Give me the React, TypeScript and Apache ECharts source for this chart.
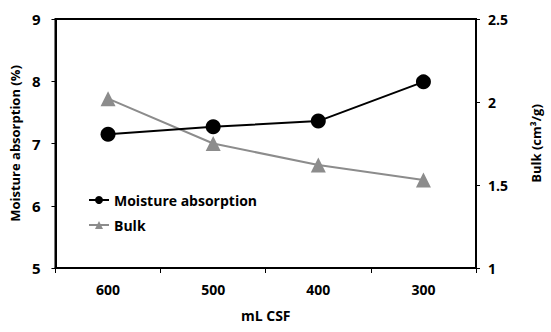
import React, { useEffect, useRef } from "react";
import * as echarts from "echarts";

const categories = ["600", "500", "400", "300"];
const moisture = [7.15, 7.27, 7.36, 7.99];
const bulk = [2.02, 1.75, 1.62, 1.53];

export default function App() {
  const ref = useRef<HTMLDivElement>(null);
  useEffect(() => {
    const chart = echarts.init(ref.current!, null, { renderer: "svg" });
    const font = "'Open Sans', 'Noto Sans', sans-serif";
    chart.setOption({
      animation: false,
      backgroundColor: "#fff",
      textStyle: { fontFamily: font },
      grid: {
        left: 55,
        right: 75,
        top: 19,
        bottom: 64,
        show: true,
        borderColor: "#000",
        borderWidth: 2,
        backgroundColor: "transparent",
      },
      legend: {
        orient: "vertical",
        left: 83,
        top: 188,
        itemWidth: 20,
        itemHeight: 10,
        itemGap: 11,
        textStyle: { fontSize: 14, fontWeight: "bold", color: "#000", fontFamily: font },
        data: [
          { name: "Moisture absorption" },
          { name: "Bulk" },
        ],
      },
      xAxis: {
        type: "category",
        data: categories,
        boundaryGap: true,
        name: "mL CSF",
        nameLocation: "middle",
        nameGap: 40,
        nameTextStyle: { fontSize: 14, fontWeight: "bold", color: "#000", fontFamily: font },
        axisLine: { lineStyle: { color: "#000", width: 2 } },
        axisTick: { show: true, inside: false, length: 5, lineStyle: { color: "#000" } },
        axisLabel: { fontSize: 14, fontWeight: "bold", color: "#000", margin: 14, fontFamily: font },
        splitLine: { show: false },
      },
      yAxis: [
        {
          type: "value",
          min: 5,
          max: 9,
          interval: 1,
          position: "left",
          name: "Moisture absorption (%)",
          nameLocation: "middle",
          nameGap: 32,
          nameRotate: 90,
          nameTextStyle: { fontSize: 13, fontWeight: "bold", color: "#000", fontFamily: font },
          axisLine: { show: true, lineStyle: { color: "#000", width: 2 } },
          axisTick: { show: true, length: 4, lineStyle: { color: "#000" } },
          axisLabel: { fontSize: 15, fontWeight: "bold", color: "#000", margin: 15, fontFamily: font },
          splitLine: { show: false },
        },
        {
          type: "value",
          min: 1,
          max: 2.5,
          interval: 0.5,
          position: "right",
          name: "Bulk (cm³/g)",
          nameLocation: "middle",
          nameGap: 53,
          nameRotate: 90,
          nameTextStyle: { fontSize: 13, fontWeight: "bold", color: "#000", fontFamily: font },
          axisLine: { show: true, lineStyle: { color: "#000", width: 2 } },
          axisTick: { show: true, length: 4, lineStyle: { color: "#000" } },
          axisLabel: { fontSize: 14, fontWeight: "bold", color: "#000", margin: 12, fontFamily: font },
          splitLine: { show: false },
        },
      ],
      series: [
        {
          name: "Moisture absorption",
          type: "line",
          yAxisIndex: 0,
          data: moisture,
          symbol: "circle",
          symbolSize: 15,
          itemStyle: { color: "#000" },
          lineStyle: { color: "#000", width: 2 },
          z: 3,
        },
        {
          name: "Bulk",
          type: "line",
          yAxisIndex: 1,
          data: bulk,
          symbol: "triangle",
          symbolSize: 15,
          itemStyle: { color: "#8c8c8c" },
          lineStyle: { color: "#8c8c8c", width: 2 },
          z: 2,
        },
      ],
    });
    return () => chart.dispose();
  }, []);
  return <div ref={ref} style={{ width: 551, height: 332, position: "absolute", left: 0, top: 0 }} />;
}
